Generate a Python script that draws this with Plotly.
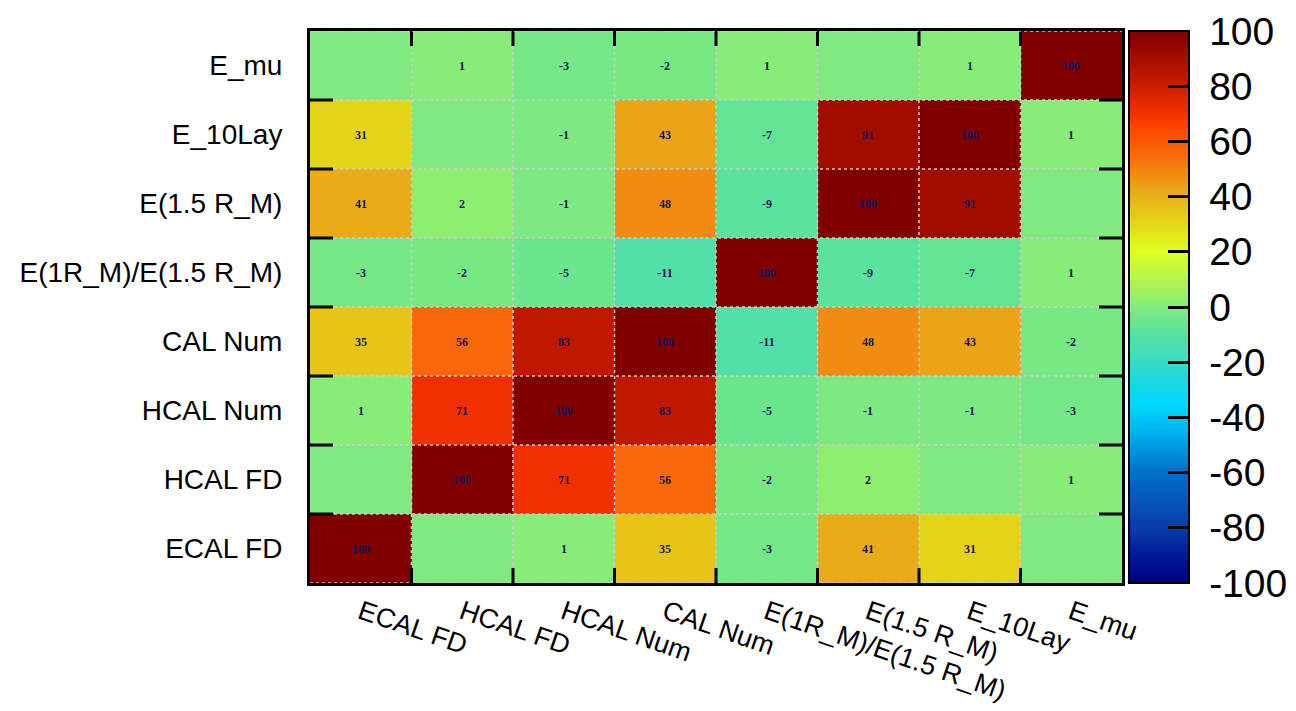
import plotly.graph_objects as go

labels = ["ECAL FD", "HCAL FD", "HCAL Num", "CAL Num",
          "E(1R_M)/E(1.5 R_M)", "E(1.5 R_M)", "E_10Lay", "E_mu"]

# correlation matrix (%), rows listed bottom -> top, columns in label order
row_ecal_fd = [100, 0, 1, 35, -3, 41, 31, 0]
row_hcal_fd = [0, 100, 71, 56, -2, 2, 0, 1]
row_hcal_num = [1, 71, 100, 83, -5, -1, -1, -3]
row_cal_num = [35, 56, 83, 100, -11, 48, 43, -2]
row_e1r_ratio = [-3, -2, -5, -11, 100, -9, -7, 1]
row_e15r = [41, 2, -1, 48, -9, 100, 91, 0]
row_e10lay = [31, 0, -1, 43, -7, 91, 100, 1]
row_emu = [0, 1, -3, -2, 1, 0, 1, 100]

z = [row_ecal_fd, row_hcal_fd, row_hcal_num, row_cal_num,
     row_e1r_ratio, row_e15r, row_e10lay, row_emu]
text = [["" if v == 0 else str(v) for v in row] for row in z]

cbar_ticks = [-100, -80, -60, -40, -20, 0, 20, 40, 60, 80, 100]
cbar_ticktext = ["\u00a0" + str(v) for v in cbar_ticks]

stops = [(-100, "#000080"), (-90, "#001A96"), (-80, "#0A3CAA"), (-60, "#0070C8"),
         (-45, "#00B4EE"), (-35, "#00D8FF"), (-25, "#20D8D8"), (-20, "#38DCC4"),
         (-11, "#52E0A8"), (-5, "#6CE68C"), (0, "#80EA80"), (2, "#8EEE70"),
         (10, "#B4F450"), (20, "#E0FF20"), (31, "#E4D418"), (35, "#E6C418"),
         (42, "#EAA818"), (48, "#F08C10"), (56, "#F86808"), (64, "#FF4800"),
         (71, "#F03000"), (83, "#C01800"), (91, "#A00C00"), (100, "#800000")]
colorscale = [[(v + 100) / 200.0, c] for v, c in stops]

fig = go.Figure(go.Heatmap(
    z=z, x=labels, y=labels, text=text, texttemplate="%{text}",
    textfont=dict(family="Liberation Serif", size=12, color="#14145a", weight="bold"),
    colorscale=colorscale, zmin=-100, zmax=100,
    colorbar=dict(
        x=1.0086, xanchor="left", xpad=0, y=0.5, yanchor="middle", len=1, ypad=0,
        thickness=60, outlinecolor="black", outlinewidth=2,
        tickvals=cbar_ticks, ticktext=cbar_ticktext,
        ticks="inside", ticklen=22, tickwidth=3, tickcolor="black",
        tickfont=dict(family="Liberation Sans", size=39, color="black"),
    ),
))

n = len(labels)
grid_style = dict(color="#cccccc", width=1.5, dash="dot")
tick_style = dict(color="black", width=3)
lo, hi = -0.5, n - 0.5
for k in range(n + 1):
    b = k - 0.5
    # dotted cell boundaries
    fig.add_shape(type="line", xref="x", yref="y", x0=lo, x1=hi, y0=b, y1=b,
                  line=grid_style, layer="above")
    if 0 < k < n:
        fig.add_shape(type="line", xref="x", yref="y", x0=b, x1=b, y0=lo, y1=hi,
                      line=grid_style, layer="above")
        # frame ticks at boundaries (inside), pixel lengths
        fig.add_shape(type="line", xref="x", yref="y domain", x0=b, x1=b,
                      ysizemode="pixel", yanchor=1, y0=0, y1=-15, line=tick_style, layer="above")
        fig.add_shape(type="line", xref="x", yref="y domain", x0=b, x1=b,
                      ysizemode="pixel", yanchor=0, y0=0, y1=15, line=tick_style, layer="above")
        fig.add_shape(type="line", xref="x domain", yref="y", y0=b, y1=b,
                      xsizemode="pixel", xanchor=0, x0=0, x1=23, line=tick_style, layer="above")
        fig.add_shape(type="line", xref="x domain", yref="y", y0=b, y1=b,
                      xsizemode="pixel", xanchor=1, x0=0, x1=-23, line=tick_style, layer="above")

fig.update_xaxes(
    type="category", ticks="", showline=True, linecolor="black", linewidth=3, mirror=True,
    showgrid=False, tickangle=19,
    tickfont=dict(family="Liberation Sans", size=27, color="black"), ticklabelstandoff=0,
    range=[lo, hi],
)
fig.update_yaxes(
    type="category", ticks="", showline=True, linecolor="black", linewidth=3, mirror=True,
    showgrid=False, tickfont=dict(family="Liberation Sans", size=28, color="black"),
    ticklabelstandoff=19, range=[lo, hi],
)

fig.update_layout(
    width=1296, height=711,
    margin=dict(l=310, r=174, t=31, b=128, autoexpand=False),
    paper_bgcolor="white", plot_bgcolor="white",
    font=dict(family="Liberation Sans", color="black"),
)

fig.write_html("out.html")
